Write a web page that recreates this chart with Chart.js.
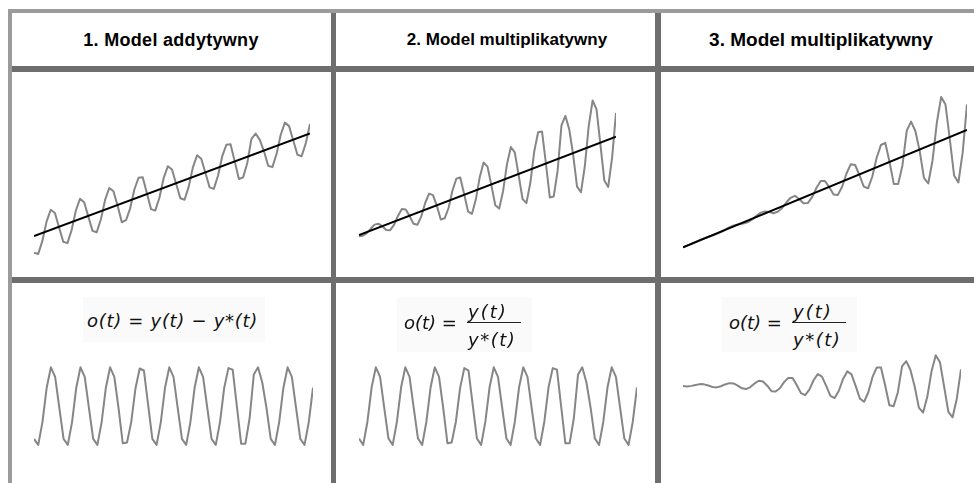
<!DOCTYPE html>
<html lang="pl">
<head>
<meta charset="utf-8">
<title>Modele szeregu czasowego</title>
<script src="https://cdn.jsdelivr.net/npm/chart.js@4.4.1/dist/chart.umd.min.js"></script>
<style>
  body { margin: 0; background: #fff; }
  .board { position: relative; width: 974px; height: 483px; overflow: hidden; background: #fff; }
  .rule { position: absolute; background: #6e6e6e; }
  .rule.outer { background: #9b9b9b; }
  .head {
    position: absolute; top: 13px; height: 53px; line-height: 54px; width: 320px;
    text-align: center; font-family: "Liberation Sans", Arial, sans-serif;
    font-weight: bold; color: #000; white-space: nowrap;
  }
  canvas { position: absolute; }
  .formula {
    position: absolute; background: #fafafa; color: #111;
    font-family: "DejaVu Sans", Verdana, sans-serif; font-style: italic; font-size: 18px;
  }
  .formula span { position: absolute; line-height: 22px; white-space: nowrap; }
  .formula .bar { height: 1px; background: #222; }
</style>
</head>
<body>
<div class="board">
  <canvas id="top1" width="319" height="205" style="left:12px;top:72px"></canvas>
  <canvas id="top2" width="319" height="205" style="left:336px;top:72px"></canvas>
  <canvas id="top3" width="313" height="205" style="left:661px;top:72px"></canvas>
  <canvas id="res1" width="319" height="200" style="left:12px;top:283px"></canvas>
  <canvas id="res2" width="319" height="200" style="left:336px;top:283px"></canvas>
  <canvas id="res3" width="313" height="200" style="left:661px;top:283px"></canvas>

  <div class="rule outer" style="left:8px;top:9px;width:966px;height:4px"></div>
  <div class="rule outer" style="left:8px;top:9px;width:4px;height:474px"></div>
  <div class="rule" style="left:12px;top:66px;width:962px;height:6px"></div>
  <div class="rule" style="left:12px;top:277px;width:962px;height:6px"></div>
  <div class="rule" style="left:331px;top:13px;width:5px;height:470px"></div>
  <div class="rule" style="left:655px;top:13px;width:6px;height:470px"></div>

  <div class="head" style="left:11px;font-size:18px;letter-spacing:0.3px">1. Model addytywny</div>
  <div class="head" style="left:347px;font-size:17px">2. Model multiplikatywny</div>
  <div class="head" style="left:661px;font-size:19px">3. Model multiplikatywny</div>

  <div class="formula" style="left:83px;top:297px;width:182px;height:45px">
    <span style="left:4px;top:13px;letter-spacing:0.7px">o(t) = y(t) − y*(t)</span>
  </div>
  <div class="formula" style="left:397px;top:297px;width:135px;height:55px">
    <span style="left:7px;top:15px">o(t) =</span>
    <span style="left:71px;top:4px;letter-spacing:2px">y(t)</span>
    <span class="bar" style="left:70px;top:25px;width:54px"></span>
    <span style="left:71px;top:32px;letter-spacing:1.5px">y*(t)</span>
  </div>
  <div class="formula" style="left:722px;top:297px;width:135px;height:55px">
    <span style="left:7px;top:15px">o(t) =</span>
    <span style="left:71px;top:4px;letter-spacing:2px">y(t)</span>
    <span class="bar" style="left:70px;top:25px;width:54px"></span>
    <span style="left:71px;top:32px;letter-spacing:1.5px">y*(t)</span>
  </div>
</div>

<script>
/* Time axis: observation numbers */
const periods = [
  1, 2, 3, 4, 5, 6, 7, 8, 9, 10, 11, 12, 13, 14, 15, 16, 17, 18, 19, 20,
  21, 22, 23, 24, 25, 26, 27, 28, 29, 30, 31, 32, 33, 34, 35, 36, 37, 38, 39, 40,
  41, 42, 43, 44, 45, 46, 47, 48, 49, 50, 51, 52, 53, 54, 55, 56, 57, 58, 59, 60,
  61, 62, 63, 64, 65, 66, 67,
];
const trendX = [1, 67];

/* 1. additive model */
const seriesAdd = [
  11.9, 11.2, 17.6, 27.0, 32.8, 31.2, 24.1, 17.2, 16.5, 22.9, 32.3, 38.1, 36.5, 29.4,
  22.5, 21.8, 28.2, 37.6, 43.4, 41.8, 34.8, 26.7, 27.7, 33.5, 42.7, 48.4, 48.7, 40.9,
  33.1, 32.4, 38.8, 48.2, 54.0, 52.4, 45.4, 38.4, 37.7, 44.1, 53.5, 59.4, 57.7, 50.7,
  43.7, 43.0, 49.4, 58.8, 64.5, 64.8, 56.4, 47.8, 48.6, 55.6, 67.4, 70.0, 66.9, 61.3,
  54.3, 53.6, 60.0, 69.4, 75.3, 73.6, 66.6, 59.6, 58.9, 65.3, 74.7,
];
const trendAdd = [20, 70];
const residAdd = [
  -8.1, -9.6, -3.9, 4.7, 9.8, 7.4, -0.4, -8.1, -9.6, -3.9, 4.7, 9.8, 7.4, -0.4,
  -8.1, -9.6, -3.9, 4.7, 9.8, 7.4, -0.4, -9.2, -9.0, -3.9, 4.5, 9.5, 9.0, 0.4,
  -8.1, -9.6, -3.9, 4.7, 9.8, 7.4, -0.4, -8.1, -9.6, -3.9, 4.7, 9.8, 7.4, -0.4,
  -8.1, -9.6, -3.9, 4.7, 9.6, 9.2, 0.0, -9.3, -9.3, -3.0, 8.0, 9.8, 6.0, -0.4,
  -8.1, -9.6, -3.9, 4.7, 9.8, 7.4, -0.4, -8.1, -9.6, -3.9, 4.7,
];

/* 2. multiplicative model, constant relative amplitude */
const seriesMul = [
  1.8, 2.3, 4.8, 9.2, 13.4, 14.3, 11.7, 8.0, 7.8, 13.2, 22.1, 28.9, 28.6, 21.9,
  14.2, 13.2, 21.6, 35.0, 44.4, 42.9, 32.1, 18.5, 19.7, 30.0, 47.5, 59.4, 60.5, 44.1,
  26.6, 24.0, 38.4, 60.7, 75.5, 71.4, 52.6, 32.8, 29.4, 46.8, 73.6, 91.0, 85.7, 62.8,
  39.0, 34.9, 55.2, 86.5, 105.8, 106.6, 74.5, 40.6, 41.4, 67.1, 112.6, 122.1, 108.5, 83.2,
  51.4, 45.7, 72.0, 112.2, 137.6, 128.6, 93.4, 57.6, 51.1, 80.3, 125.1,
];
const trendMul = [3, 101.3];
const residMul = [
  0.6, 0.52, 0.81, 1.24, 1.49, 1.37, 0.98, 0.6, 0.52, 0.81, 1.24, 1.49, 1.37, 0.98,
  0.6, 0.52, 0.81, 1.24, 1.49, 1.37, 0.98, 0.54, 0.55, 0.81, 1.23, 1.48, 1.45, 1.02,
  0.6, 0.52, 0.81, 1.24, 1.49, 1.37, 0.98, 0.6, 0.52, 0.81, 1.24, 1.49, 1.37, 0.98,
  0.6, 0.52, 0.81, 1.24, 1.48, 1.46, 1.0, 0.54, 0.54, 0.85, 1.4, 1.49, 1.3, 0.98,
  0.6, 0.52, 0.81, 1.24, 1.49, 1.37, 0.98, 0.6, 0.52, 0.81, 1.24,
];

/* 3. multiplicative model, growing relative amplitude */
const seriesGrow = [
  9.2, 10.9, 12.8, 14.7, 16.7, 18.4, 19.9, 21.3, 23.0, 25.0, 27.4, 29.7, 31.4, 32.3,
  33.0, 34.3, 37.0, 40.5, 43.7, 45.2, 44.7, 43.3, 44.8, 48.4, 54.1, 58.8, 60.8, 57.6,
  53.4, 53.5, 59.4, 68.6, 75.6, 75.5, 69.3, 62.2, 61.7, 70.1, 83.1, 92.4, 91.6, 81.5,
  70.1, 68.3, 80.1, 98.8, 111.6, 113.8, 94.6, 72.5, 72.7, 91.2, 126.0, 135.0, 125.6, 105.7,
  78.7, 73.1, 96.4, 134.3, 159.6, 152.0, 117.6, 81.2, 74.1, 104.2, 152.2,
];
const trendGrow = [9.3, 126.6];
const residGrow = [
  0.992, 0.988, 0.995, 1.007, 1.017, 1.014, 0.999, 0.981, 0.976, 0.99, 1.013, 1.029, 1.025, 0.998,
  0.965, 0.955, 0.98, 1.026, 1.059, 1.049, 0.997, 0.929, 0.925, 0.965, 1.042, 1.095, 1.095, 1.005,
  0.904, 0.879, 0.949, 1.065, 1.142, 1.111, 0.994, 0.87, 0.842, 0.934, 1.082, 1.176, 1.139, 0.992,
  0.835, 0.797, 0.915, 1.107, 1.226, 1.226, 1.0, 0.752, 0.741, 0.913, 1.239, 1.304, 1.193, 0.987,
  0.723, 0.661, 0.858, 1.176, 1.377, 1.291, 0.984, 0.67, 0.602, 0.835, 1.202,
];

const toPoints = (xs, ys) => ys.map((y, i) => ({ x: xs[i], y }));

const grayLine = (values) => ({
  data: toPoints(periods, values),
  borderColor: "#868686",
  borderWidth: 2,
  borderJoinStyle: "round",
});

const trendLine = (values) => ({
  data: toPoints(trendX, values),
  borderColor: "#000",
  borderWidth: 2,
});

const drawPanel = (id, datasets, yMin, yMax, padLeft, padRight) =>
  new Chart(document.getElementById(id), {
    type: "line",
    data: { datasets },
    options: {
      responsive: false,
      animation: false,
      events: [],
      layout: { padding: { left: padLeft, right: padRight, top: 0, bottom: 0 } },
      scales: {
        x: { type: "linear", min: 1, max: 67, display: false },
        y: { min: yMin, max: yMax, display: false },
      },
      elements: { point: { radius: 0 }, line: { tension: 0 } },
      plugins: { legend: { display: false }, tooltip: { enabled: false } },
    },
  });

/* trend first so it is drawn over the series */
drawPanel("top1", [trendLine(trendAdd), grayLine(seriesAdd)], 0, 100, 22, 21);
drawPanel("top2", [trendLine(trendMul), grayLine(seriesMul)], -39, 166, 23, 39);
drawPanel("top3", [trendLine(trendGrow), grayLine(seriesGrow)], -20.4, 184.6, 22, 7);

drawPanel("res1", [grayLine(residAdd)], -19.125, 30.875, 22, 18);
drawPanel("res2", [grayLine(residMul)], 0.044, 2.544, 23, 18);
drawPanel("res3", [grayLine(residGrow)], -0.219, 2.281, 22, 13);
</script>
</body>
</html>
